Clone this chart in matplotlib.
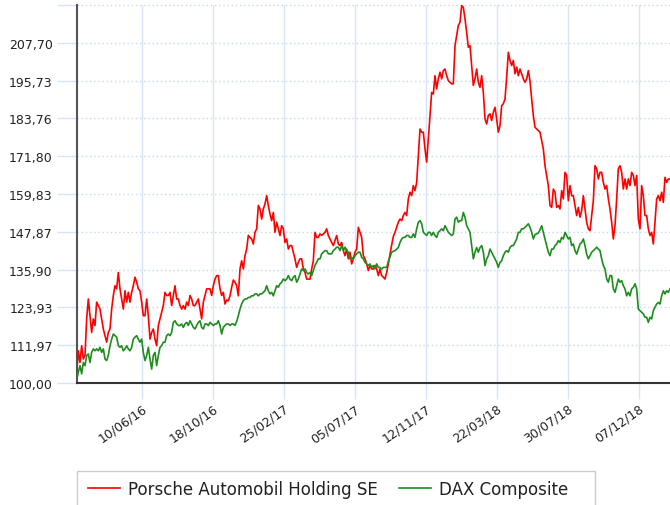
import matplotlib
matplotlib.use('Agg')
import matplotlib.pyplot as plt
import matplotlib.dates as mdates
from matplotlib.patches import Rectangle
from matplotlib.ticker import FixedLocator, FuncFormatter
import pandas as pd

# ---------------- data (readings every ~3 days, rebased to 100) ----------------
first_date = '2016-02-11 09:00'
last_date = '2019-02-02 17:00'
x_start = '2016-02-12'

porsche = [
    103, 110.2, 106.5, 111.8, 107.6, 108.7, 120.3, 126.6, 121.3, 116.0,
    120.3, 118.2, 125.6, 124.5, 123.4, 120.3, 117.1, 115.0, 112.9, 116.0,
    117.1, 123.4, 127.7, 130.8, 129.8, 135.0, 129.8, 126.6, 123.4, 129.2,
    125.6, 128.7, 125.6, 128.7, 130.8, 133.5, 131.9, 129.8, 129.2, 125.6,
    121.3, 121.3, 126.6, 121.3, 113.9, 116.0, 117.1, 113.9, 111.8, 118.2,
    120.3, 122.4, 124.5, 128.7, 127.7, 127.7, 128.7, 124.5, 127.7, 130.8,
    126.6, 126.6, 124.5, 123.4, 124.5, 123.4, 125.6, 124.5, 127.7, 126.6,
    124.5, 124.5, 125.6, 126.6, 123.4, 120.3, 125.6, 127.7, 129.8, 129.8,
    129.8, 127.7, 130.8, 132.9, 134.0, 134.0, 129.8, 127.7, 128.7, 125.0,
    126.3, 126.0, 127.6, 130.3, 132.6, 131.9, 130.8, 127.6, 136.1, 138.7,
    136.1, 140.3, 142.4, 146.7, 146.1, 145.6, 144.0, 147.7, 148.8, 156.2,
    155.1, 151.9, 155.1, 156.7, 159.3, 156.2, 153.5, 151.4, 154.0, 147.7,
    150.9, 148.8, 146.7, 149.8, 148.8, 144.5, 145.6, 142.4, 143.5, 143.5,
    141.4, 139.3, 136.6, 138.2, 139.3, 139.3, 136.1, 135.0, 132.9, 132.9,
    132.9, 136.1, 138.7, 147.7, 146.1, 146.1, 147.2, 146.7, 147.2, 147.7,
    148.8, 146.7, 145.6, 144.5, 143.5, 145.1, 146.7, 144.0, 143.5, 144.5,
    141.9, 140.3, 142.4, 139.3, 141.4, 137.7, 139.3, 141.4, 142.4, 149.3,
    147.7, 146.1, 140.3, 139.3, 137.7, 135.6, 137.2, 136.1, 136.1, 137.2,
    136.1, 134.0, 136.1, 134.0, 133.5, 132.9, 135.0, 137.7, 140.8, 143.7,
    146.4, 147.7, 149.3, 150.9, 151.9, 151.4, 153.0, 154.0, 153.0, 158.3,
    160.4, 159.3, 162.5, 160.9, 163.5, 172.0, 180.4, 179.4, 179.4, 174.1,
    169.9, 177.3, 184.7, 192.0, 191.5, 197.3, 193.1, 196.3, 198.4, 196.3,
    198.9, 199.4, 197.3, 195.7, 195.2, 194.7, 194.7, 206.8, 210.0, 213.2,
    214.2, 219.5, 218.9, 215.3, 211.0, 206.3, 206.8, 200.5, 194.2, 196.3,
    199.4, 195.2, 193.6, 197.3, 192.0, 183.6, 182.0, 184.7, 185.2, 183.1,
    185.7, 187.3, 183.6, 179.4, 181.5, 187.8, 188.4, 189.9, 196.8, 204.7,
    202.1, 200.5, 202.1, 197.9, 200.0, 197.3, 199.4, 197.9, 196.3, 195.2,
    196.3, 198.9, 195.7, 189.9, 184.7, 181.0, 180.4, 179.9, 179.4, 176.7,
    174.1, 168.8, 165.7, 162.5, 156.2, 155.6, 161.4, 160.4, 155.6, 156.2,
    155.1, 160.9, 158.3, 166.7, 165.7, 157.7, 162.5, 159.3, 159.3, 156.2,
    153.0, 155.6, 152.5, 154.6, 159.3, 155.1, 150.9, 148.8, 148.2, 153.0,
    157.7, 168.8, 167.8, 164.6, 166.7, 166.7, 163.5, 161.4, 162.5, 158.3,
    155.1, 150.9, 145.6, 149.8, 158.3, 167.8, 168.8, 166.7, 161.4, 164.6,
    161.4, 164.6, 162.5, 166.7, 165.7, 162.5, 165.7, 151.9, 148.8, 162.5,
    159.3, 153.0, 153.0, 148.8, 146.7, 147.7, 144.0, 150.9, 158.3, 159.3,
    157.7, 160.4, 157.2, 165.1, 163.5, 164.6, 164.6]

dax = [
    101.0, 103.4, 105.5, 102.9, 106.5, 105.5, 108.7, 109.2, 106.5, 109.7,
    110.8, 110.2, 110.8, 110.2, 111.3, 109.7, 110.8, 107.6, 107.1, 108.7,
    111.8, 113.9, 115.5, 115.0, 114.5, 111.8, 111.3, 111.8, 110.2, 110.8,
    111.8, 110.8, 110.2, 111.3, 113.9, 114.5, 115.0, 113.9, 112.9, 113.9,
    109.7, 107.1, 108.7, 111.3, 107.6, 104.4, 108.7, 109.7, 105.5, 108.7,
    111.3, 111.8, 112.9, 112.9, 115.0, 115.5, 115.0, 116.0, 119.2, 119.7,
    118.7, 118.2, 118.2, 118.7, 117.6, 118.7, 119.2, 118.2, 119.7, 118.7,
    117.6, 117.1, 118.2, 119.2, 119.7, 117.6, 117.1, 118.7, 118.7, 118.2,
    119.2, 118.7, 118.2, 118.7, 118.7, 119.7, 118.2, 115.5, 117.6, 118.2,
    118.7, 118.7, 118.2, 118.7, 118.7, 118.2, 119.5, 121.3, 123.4, 125.0,
    126.1, 126.6, 126.6, 127.1, 127.1, 127.6, 127.6, 128.2, 128.2, 127.6,
    128.2, 128.2, 128.7, 129.2, 130.8, 129.2, 128.2, 128.7, 127.6, 129.2,
    130.8, 130.3, 131.4, 131.9, 132.9, 132.4, 132.9, 134.0, 132.9, 132.4,
    133.5, 134.0, 131.9, 132.9, 134.5, 136.1, 135.6, 136.1, 135.0, 134.5,
    135.0, 134.0, 135.6, 137.2, 138.2, 139.3, 139.3, 140.9, 141.4, 141.9,
    141.9, 140.9, 140.9, 140.9, 141.9, 142.4, 143.0, 143.0, 141.9, 143.5,
    141.9, 143.0, 141.9, 141.4, 139.3, 139.8, 139.3, 140.3, 140.9, 141.4,
    141.4, 139.8, 139.3, 138.2, 137.7, 137.2, 137.7, 136.6, 137.2, 136.1,
    137.7, 136.6, 136.6, 136.1, 136.6, 136.6, 136.6, 138.5, 140.0, 141.4,
    141.7, 141.9, 142.4, 142.9, 144.5, 145.6, 146.1, 146.1, 146.7, 146.7,
    146.1, 146.1, 147.2, 146.1, 148.8, 150.9, 151.4, 150.4, 147.7, 147.2,
    146.7, 147.7, 147.7, 146.7, 147.7, 146.7, 146.1, 147.7, 148.2, 148.8,
    148.2, 149.8, 148.8, 147.7, 147.2, 146.7, 147.2, 151.9, 152.5, 150.9,
    151.4, 151.4, 154.0, 152.5, 149.8, 148.8, 147.7, 143.5, 139.3, 141.4,
    142.9, 141.4, 142.9, 143.5, 141.4, 137.2, 139.3, 140.3, 142.4, 141.4,
    140.3, 139.3, 138.2, 136.6, 138.2, 138.7, 140.3, 141.4, 141.9, 141.4,
    142.9, 143.5, 143.5, 144.5, 145.6, 147.7, 147.7, 148.8, 148.8, 149.3,
    149.8, 150.4, 149.3, 147.7, 145.6, 147.0, 147.2, 147.5, 148.5, 149.8,
    147.7, 145.6, 143.5, 141.4, 140.3, 142.4, 142.4, 143.5, 144.0, 145.1,
    144.5, 146.1, 145.6, 147.7, 146.7, 145.6, 146.1, 143.5, 144.0, 141.9,
    140.8, 142.4, 144.0, 144.5, 145.6, 143.5, 140.8, 139.3, 140.3, 141.4,
    141.9, 142.4, 143.0, 142.4, 141.9, 139.3, 137.2, 136.1, 132.9, 131.9,
    134.0, 134.0, 129.8, 128.7, 130.8, 132.9, 131.9, 132.4, 130.8, 129.8,
    127.6, 128.7, 127.6, 129.8, 130.3, 131.4, 129.8, 123.4, 122.9, 122.4,
    121.9, 120.8, 120.8, 119.2, 120.8, 120.3, 122.9, 124.0, 125.0, 125.5,
    125.0, 127.6, 129.2, 128.2, 129.2, 128.7, 129.8]

series_names = ['Porsche Automobil Holding SE', 'DAX Composite']
series_colors = ['#ff0000', '#1f8c1f']

y_ticks = [100.00, 111.97, 123.93, 135.90, 147.87, 159.83, 171.80, 183.76, 195.73, 207.70]
y_top = 219.67
x_tick_dates = ['2016-06-10', '2016-10-18', '2017-02-25', '2017-07-05',
                '2017-11-12', '2018-03-22', '2018-07-30', '2018-12-07']

dates = pd.date_range(first_date, last_date, periods=len(porsche))

# ---------------- figure ----------------
W, H = 670, 506
plt.rcParams['font.family'] = ['DejaVu Sans']
fig = plt.figure(figsize=(W / 100, H / 100), dpi=100)
ax = fig.add_axes([77 / W, 1 - 384 / H, 593 / W, 378 / H])

grid_col = '#d6e4f5'
hgrid_col = '#c5d8f0'
ax.plot(dates, porsche, color=series_colors[0], lw=1.2, label=series_names[0], zorder=3)
ax.plot(dates, dax, color=series_colors[1], lw=1.2, label=series_names[1], zorder=3)

ax.set_ylim(y_ticks[0], y_top)
ax.set_xlim(pd.Timestamp(x_start), pd.Timestamp(last_date))

ax.yaxis.set_major_locator(FixedLocator(y_ticks + [y_top]))
ax.yaxis.set_major_formatter(FuncFormatter(
    lambda v, p: '' if v > y_ticks[-1] + 1 else f"{v:.2f}".replace('.', ',')))
ax.set_xticks(pd.to_datetime(x_tick_dates))
ax.xaxis.set_major_formatter(mdates.DateFormatter('%d/%m/%y'))

ax.grid(axis='y', linestyle=(0, (1, 2)), color=hgrid_col, lw=1)
ax.grid(axis='x', linestyle='-', color=grid_col, lw=1)
for gl in ax.get_ygridlines():
    gl.set_clip_on(False)

ax.tick_params(axis='y', length=14.5, width=1, color=grid_col, pad=3,
               labelsize=9, labelcolor='#222222')
ax.tick_params(axis='x', length=11.5, width=1, color=grid_col, pad=2,
               labelsize=9, labelcolor='#222222')
for lab in ax.get_xticklabels():
    lab.set_rotation(35)
    lab.set_ha('right')
    lab.set_va('top')
    lab.set_rotation_mode('anchor')

for s in ['top', 'right']:
    ax.spines[s].set_visible(False)
ax.spines['left'].set_color('#555555')
ax.spines['left'].set_linewidth(1.5)
ax.spines['bottom'].set_color('#333333')
ax.spines['bottom'].set_linewidth(1.5)

# legend box (cropped at bottom)
fig.patches.append(Rectangle((77 / W, -0.05), (595 - 77) / W, (1 - 472 / H) + 0.05,
                             transform=fig.transFigure, facecolor='white',
                             edgecolor='#cccccc', lw=1))
fig.legend(loc='center left', bbox_to_anchor=(88 / W, 1 - 490 / H), ncol=2,
           frameon=False, fontsize=12, handlelength=1.9, handletextpad=0.48,
           columnspacing=1.3, borderpad=0, borderaxespad=0, labelcolor='#222222')

fig.savefig('out.png', dpi=100)
